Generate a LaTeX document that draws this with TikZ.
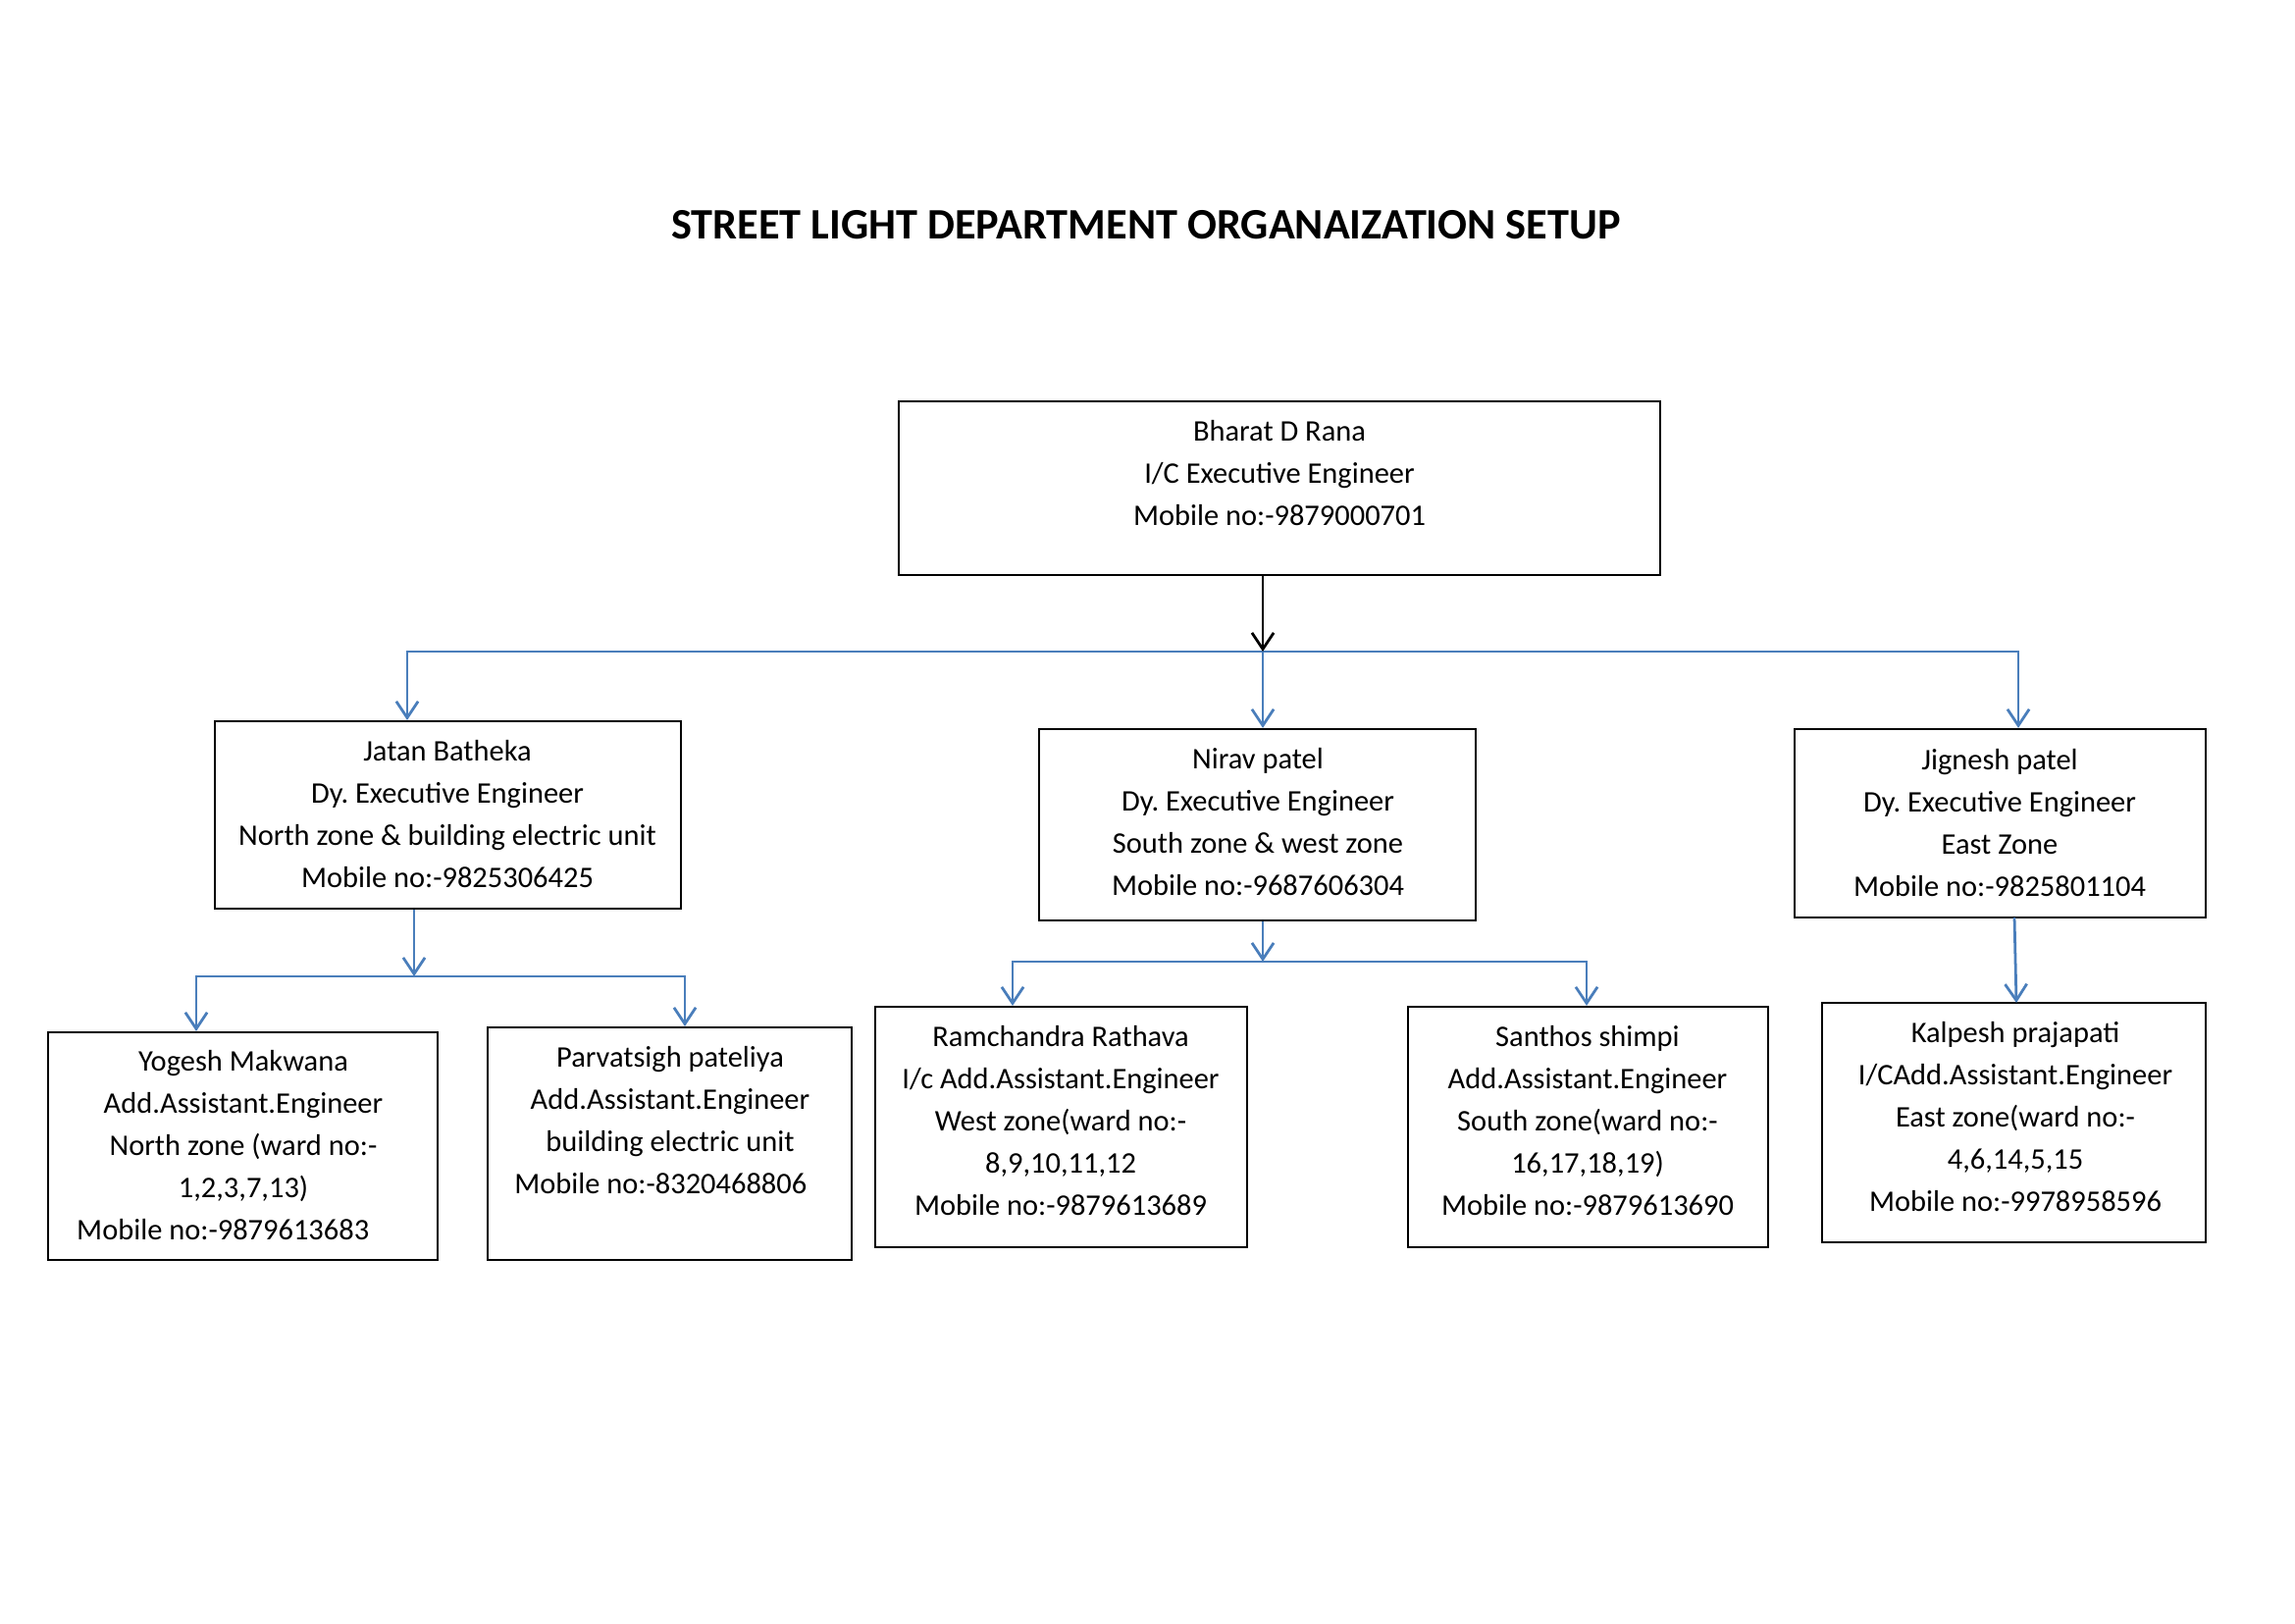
\documentclass[tikz,border=0pt]{standalone}
\usepackage{fontspec}
\setmainfont{Carlito}
\usetikzlibrary{arrows.meta}
\definecolor{connblue}{HTML}{4A7EBB}
\frenchspacing
\begin{document}
\begin{tikzpicture}[x=0.3612pt,y=-0.3612pt,
  box/.style={draw=black, line width=0.8pt, inner sep=0pt},
  txt/.style={align=center, anchor=north, inner sep=0pt, font=\fontsize{11}{15.5}\selectfont},
  tip/.tip={Straight Barb[length=6pt,width=8pt]},
  conn/.style={draw=connblue, line width=1pt, -tip},
  bconn/.style={draw=black, line width=1pt, -tip},
  line/.style={draw=connblue, line width=1pt}]
\fill[white] (0,0) rectangle (2339,1654);
\useasboundingbox (0,0) rectangle (2339,1654);

\node[font=\fontsize{16}{19}\selectfont\bfseries] (title) at (1168,229) {STREET LIGHT DEPARTMENT ORGANAIZATION SETUP};

% boxes
\node[box, minimum width=280.29pt, minimum height=63.93pt] (B) at (1304,497.5) {};
\node[box, minimum width=171.57pt, minimum height=68.99pt] (J) at (456.5,830.5) {};
\node[box, minimum width=160.73pt, minimum height=70.43pt] (N) at (1281.5,840.5) {};
\node[box, minimum width=151.34pt, minimum height=69.35pt] (G) at (2038.5,839) {};
\node[box, minimum width=143.40pt, minimum height=83.80pt] (Y) at (247.5,1168) {};
\node[box, minimum width=134.01pt, minimum height=85.60pt] (P) at (682.5,1165.5) {};
\node[box, minimum width=136.89pt, minimum height=88.49pt] (R) at (1081.5,1148.5) {};
\node[box, minimum width=132.56pt, minimum height=88.49pt] (S) at (1618.5,1148.5) {};
\node[box, minimum width=141.23pt, minimum height=88.13pt] (K) at (2052.5,1144) {};

% texts
\node[txt] (tB) at (1304,424) {\rule{0pt}{9pt}Bharat D Rana\\I/C Executive Engineer\\Mobile no:-9879000701};
\node[txt] (tJ) at (456,750) {\rule{0pt}{9pt}Jatan Batheka\\Dy. Executive Engineer\\North zone \& building electric unit\\Mobile no:-9825306425};
\node[txt] (tN) at (1282,758) {\rule{0pt}{9pt}Nirav patel\\Dy. Executive Engineer\\South zone \& west zone\\Mobile no:-9687606304};
\node[txt] (tG) at (2038,759) {\rule{0pt}{9pt}Jignesh patel\\Dy. Executive Engineer\\East Zone\\Mobile no:-9825801104};
\node[txt] (tY) at (248,1066) {\rule{0pt}{9pt}Yogesh Makwana\\Add.Assistant.Engineer\\North zone (ward no:-\\1,2,3,7,13)\\\hspace*{-15pt}Mobile no:-9879613683};
\node[txt] (tP) at (683,1062) {\rule{0pt}{9pt}Parvatsigh pateliya\\Add.Assistant.Engineer\\building electric unit\\\hspace*{-7pt}Mobile no:-8320468806};
\node[txt] (tR) at (1081,1041) {\rule{0pt}{9pt}Ramchandra Rathava\\I/c Add.Assistant.Engineer\\West zone(ward no:-\\8,9,10,11,12\\Mobile no:-9879613689};
\node[txt] (tS) at (1618,1041) {\rule{0pt}{9pt}Santhos shimpi\\Add.Assistant.Engineer\\South zone(ward no:-\\16,17,18,19)\\Mobile no:-9879613690};
\node[txt] (tK) at (2054,1037) {\rule{0pt}{9pt}Kalpesh prajapati\\I/CAdd.Assistant.Engineer\\East zone(ward no:-\\4,6,14,5,15\\Mobile no:-9978958596};

% level 1 connectors
\coordinate (b1L) at (415,664);
\coordinate (b1M) at (1287,664);
\coordinate (b1R) at (2057,664);
\draw[line, tip-tip] (b1L |- J.north) -- (b1L) -- (b1R) -- (b1R |- G.north);
\draw[conn] (b1M) -- (b1M |- N.north);
\draw[bconn] (B.south -| b1M) -- (b1M);

% under J
\coordinate (b2L) at (200,995);
\coordinate (b2M) at (422,995);
\coordinate (b2R) at (698,995);
\draw[conn] (J.south -| b2M) -- (b2M);
\draw[line, tip-tip] (b2L |- Y.north) -- (b2L) -- (b2R) -- (b2R |- P.north);

% under N
\coordinate (b3L) at (1032,980);
\coordinate (b3M) at (1287,980);
\coordinate (b3R) at (1617,980);
\draw[conn] (N.south -| b3M) -- (b3M);
\draw[line, tip-tip] (b3L |- R.north) -- (b3L) -- (b3R) -- (b3R |- S.north);

% under G
\coordinate (gS) at (2053,935);
\coordinate (kN) at (2055,1022);
\draw[conn] (gS) -- (kN);
\end{tikzpicture}
\end{document}
